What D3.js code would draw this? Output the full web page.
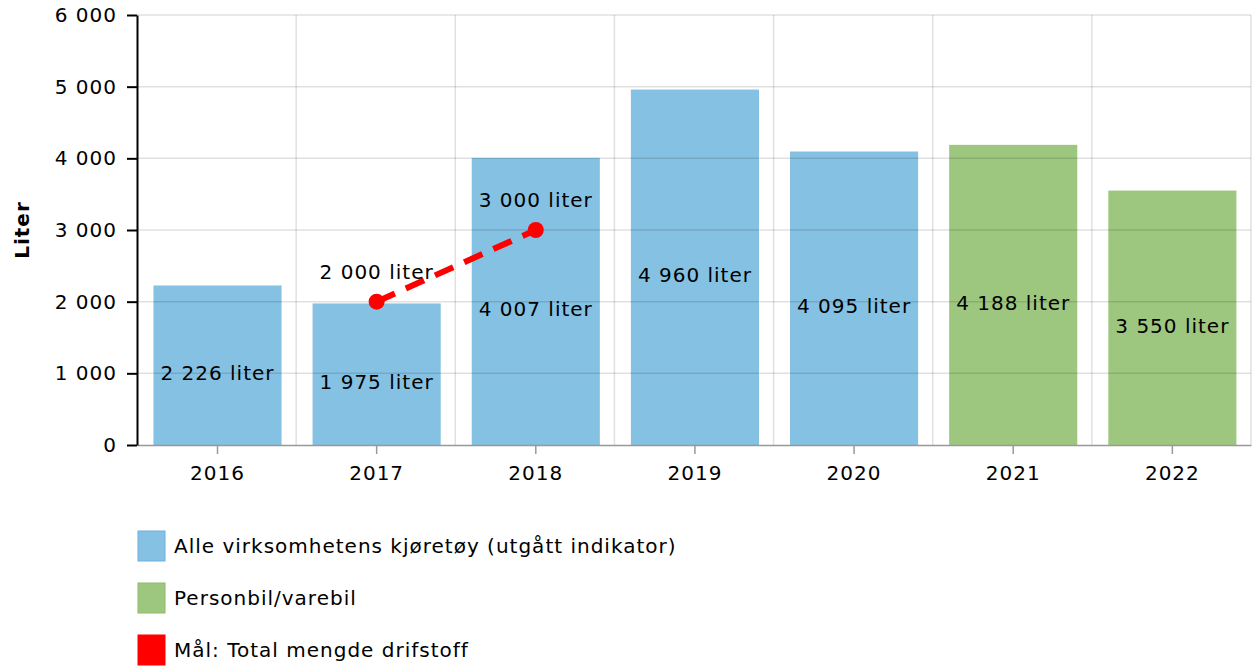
<!DOCTYPE html>
<html>
<head>
<meta charset="utf-8">
<script src="https://cdn.jsdelivr.net/npm/d3@7"></script>
<style>
  body { margin: 0; background: #fff; }
  text { font-family: "DejaVu Sans", Verdana, sans-serif; letter-spacing: 1px; }
</style>
</head>
<body>
<div id="chart"></div>
<script>
var svgW = 1255;
var svgH = 667;

var years = ["2016", "2017", "2018", "2019", "2020", "2021", "2022"];
var values = [2226, 1975, 4007, 4960, 4095, 4188, 3550];
var seriesOf = ["alle", "alle", "alle", "alle", "alle", "bil", "bil"];
var goalYears = ["2017", "2018"];
var goalValues = [2000, 3000];
var yTicks = [0, 1000, 2000, 3000, 4000, 5000, 6000];
var legendNames = ["Alle virksomhetens kjøretøy (utgått indikator)", "Personbil/varebil", "Mål: Total mengde drifstoff"];

var colors = { alle: "#85c1e2", bil: "#9dc67f", goal: "#ff0000" };
var legendColors = [colors.alle, colors.bil, colors.goal];
var legendStroke = ["#6fb0dc", "#8cbc6c", "#ff0000"];

var margin = { left: 137, right: 4, top: 15, bottom: 222 };
var chartW = svgW - margin.left - margin.right;
var chartH = svgH - margin.top - margin.bottom;

var locale = d3.formatLocale({ decimal: ",", thousands: " ", grouping: [3], currency: ["", ""] });
var fmt = locale.format(",d");

var svg = d3.select("#chart").append("svg")
    .attr("width", svgW)
    .attr("height", svgH);
var g = svg.append("g")
    .attr("transform", `translate(${margin.left}, ${margin.top})`);

var xScale = d3.scaleBand()
    .domain(years)
    .range([0, chartW])
    .paddingInner(0.195)
    .paddingOuter(0.0975)
    .align(0.53);

var yScale = d3.scaleLinear()
    .domain([0, 6000])
    .range([chartH, 0]);

// bars
g.selectAll("rect.bar")
    .data(values)
    .enter()
    .append("rect")
    .attr("class", "bar")
    .attr("x", (d, i) => xScale(years[i]))
    .attr("y", d => yScale(d))
    .attr("width", xScale.bandwidth())
    .attr("height", d => chartH - yScale(d))
    .attr("fill", (d, i) => colors[seriesOf[i]]);

// grid (drawn over bars, light)
var bounds = d3.range(years.length + 1).map(i => i * chartW / years.length);
g.selectAll("line.vgrid")
    .data(bounds.slice(1))
    .enter()
    .append("line")
    .attr("x1", d => d).attr("x2", d => d)
    .attr("y1", 0).attr("y2", chartH)
    .attr("stroke", "rgba(0,0,0,0.12)")
    .attr("stroke-width", 1.5);

g.selectAll("line.hgrid")
    .data(yTicks.slice(1))
    .enter()
    .append("line")
    .attr("x1", 0).attr("x2", chartW)
    .attr("y1", d => yScale(d)).attr("y2", d => yScale(d))
    .attr("stroke", "rgba(0,0,0,0.12)")
    .attr("stroke-width", 1.5);

// x axis
var xAxis = g.append("g")
    .attr("transform", `translate(0, ${chartH})`)
    .call(d3.axisBottom(xScale).tickSize(9).tickSizeOuter(0).tickPadding(12));
xAxis.select(".domain").attr("stroke", "#999").attr("stroke-width", 1.5);
xAxis.selectAll(".tick line").attr("stroke", "#999").attr("stroke-width", 1.5);
xAxis.selectAll("text").attr("font-size", 20).attr("fill", "#000")
    .attr("font-family", "DejaVu Sans, Verdana, sans-serif");

// y axis
var yAxis = g.append("g")
    .call(d3.axisLeft(yScale).tickValues(yTicks).tickFormat(fmt).tickSize(10).tickSizeOuter(0).tickPadding(10));
yAxis.select(".domain").attr("stroke", "#000").attr("stroke-width", 2);
yAxis.selectAll(".tick line").attr("stroke", "#000").attr("stroke-width", 2);
yAxis.selectAll("text").attr("font-size", 20).attr("fill", "#000")
    .attr("font-family", "DejaVu Sans, Verdana, sans-serif");

// y title
svg.append("text")
    .attr("transform", `translate(29, ${margin.top + chartH / 2}) rotate(-90)`)
    .attr("text-anchor", "middle")
    .attr("font-size", 20)
    .attr("font-weight", "bold")
    .text("Liter");

// bar labels
g.selectAll("text.barlabel")
    .data(values)
    .enter()
    .append("text")
    .attr("class", "barlabel")
    .attr("x", (d, i) => xScale(years[i]) + xScale.bandwidth() / 2)
    .attr("y", d => (yScale(d) + chartH) / 2 + 8)
    .attr("dy", "0.35em")
    .attr("text-anchor", "middle")
    .attr("font-size", 20)
    .text(d => fmt(d) + " liter");

// goal line
var cx = y => xScale(y) + xScale.bandwidth() / 2;
var line = d3.line()
    .x((d, i) => cx(goalYears[i]))
    .y(d => yScale(d));
g.append("path")
    .datum(goalValues)
    .attr("d", line)
    .attr("fill", "none")
    .attr("stroke", colors.goal)
    .attr("stroke-width", 6)
    .attr("stroke-dasharray", "20,12");

g.selectAll("circle.goal")
    .data(goalValues)
    .enter()
    .append("circle")
    .attr("cx", (d, i) => cx(goalYears[i]))
    .attr("cy", d => yScale(d))
    .attr("r", 8)
    .attr("fill", colors.goal);

g.selectAll("text.goallabel")
    .data(goalValues)
    .enter()
    .append("text")
    .attr("x", (d, i) => cx(goalYears[i]))
    .attr("y", d => yScale(d) - 30)
    .attr("dy", "0.35em")
    .attr("text-anchor", "middle")
    .attr("font-size", 20)
    .text(d => fmt(d) + " liter");

// legend
var legend = svg.append("g")
    .attr("transform", "translate(138, 531)");
var items = legend.selectAll("g")
    .data(legendNames)
    .enter()
    .append("g")
    .attr("transform", (d, i) => `translate(0, ${i * 52})`);
items.append("rect")
    .attr("width", 27)
    .attr("height", 30)
    .attr("fill", (d, i) => legendColors[i])
    .attr("stroke", (d, i) => legendStroke[i])
    .attr("stroke-width", 1);
items.append("text")
    .attr("x", 36)
    .attr("y", 15)
    .attr("dy", "0.35em")
    .attr("font-size", 20)
    .text(d => d);
</script>
</body>
</html>
